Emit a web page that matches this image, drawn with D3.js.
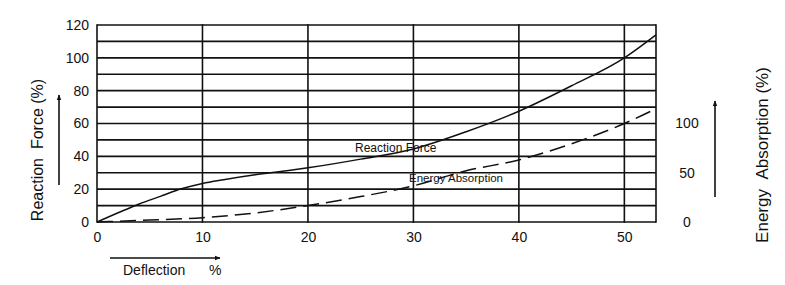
<!DOCTYPE html>
<html>
<head>
<meta charset="utf-8">
<script src="https://cdn.jsdelivr.net/npm/d3@7"></script>
<style>
  body { margin: 0; background: #fff; }
  text { font-family: "Liberation Sans", Arial, sans-serif; fill: #111; }
</style>
</head>
<body>
<div class="svg"></div>
<script>
// values
var deflectionTicks = [0, 10, 20, 30, 40, 50];
var forceTicks = [0, 20, 40, 60, 80, 100, 120];
var forceGrid = [0, 10, 20, 30, 40, 50, 60, 70, 80, 90, 100, 110, 120];
var energyTicks = [0, 50, 100];

var forceDeflection = [0, 2, 4, 6, 8, 10, 12, 15, 18, 20, 25, 30, 35, 40, 45, 50, 53];
var reactionForce   = [0, 5.6, 11, 15.6, 20.2, 23.5, 25.8, 28.8, 31.2, 33, 38.3, 44.5, 55, 67.5, 83, 100, 114];

var energyDeflection = [0, 5, 10, 15, 20, 25, 30, 35, 40, 45, 50, 53];
var energyAbsorption = [0, 2, 4.3, 9.2, 16.7, 25.8, 36.7, 52, 63, 79.5, 100, 115];

var width = 785, height = 285;
var plotL = 97, plotR = 656, plotT = 25, plotB = 222;

var svg = d3.select(".svg").append("svg")
    .attr("width", width)
    .attr("height", height);

var x = d3.scaleLinear().domain([0, 53]).range([plotL, plotR]);
var y = d3.scaleLinear().domain([0, 120]).range([plotB, plotT]);
var yR = d3.scaleLinear().domain([0, 200]).range([plotB, plotT]);

// grid
svg.append("g").selectAll("line")
    .data(forceGrid)
    .enter().append("line")
    .attr("x1", plotL).attr("x2", plotR)
    .attr("y1", function (d) { return y(d); })
    .attr("y2", function (d) { return y(d); })
    .attr("stroke", "#111").attr("stroke-width", 1.6);

svg.append("g").selectAll("line")
    .data(deflectionTicks.concat([53]))
    .enter().append("line")
    .attr("x1", function (d) { return x(d); })
    .attr("x2", function (d) { return x(d); })
    .attr("y1", plotT - 0.8).attr("y2", plotB + 0.8)
    .attr("stroke", "#111").attr("stroke-width", 1.6);

// curves
var forceLine = d3.line()
    .x(function (d) { return x(d[0]); })
    .y(function (d) { return y(d[1]); })
    .curve(d3.curveMonotoneX);

var energyLine = d3.line()
    .x(function (d) { return x(d[0]); })
    .y(function (d) { return yR(d[1]); })
    .curve(d3.curveMonotoneX);

svg.append("path")
    .attr("d", forceLine(d3.zip(forceDeflection, reactionForce)))
    .attr("fill", "none").attr("stroke", "#111").attr("stroke-width", 1.5);

svg.append("path")
    .attr("d", energyLine(d3.zip(energyDeflection, energyAbsorption)))
    .attr("fill", "none").attr("stroke", "#111").attr("stroke-width", 1.5)
    .attr("stroke-dasharray", "16,7");

// curve labels
svg.append("text").attr("x", 355).attr("y", 152)
    .style("font-size", "12px").text("Reaction Force");
svg.append("text").attr("x", 409).attr("y", 182)
    .style("font-size", "11.5px").text("Energy Absorption");

// axes
var axisLeft = svg.append("g")
    .attr("transform", "translate(" + plotL + ",0)")
    .call(d3.axisLeft(y).tickValues(forceTicks).tickSize(0).tickPadding(8));
axisLeft.select(".domain").remove();
axisLeft.selectAll("text").style("font-size", "14px").style("font-family", "Liberation Sans, Arial, sans-serif").attr("fill", "#111");

var axisBottom = svg.append("g")
    .attr("transform", "translate(0," + plotB + ")")
    .call(d3.axisBottom(x).tickValues(deflectionTicks).tickSize(0).tickPadding(10));
axisBottom.select(".domain").remove();
axisBottom.selectAll("text").style("font-size", "14px").style("font-family", "Liberation Sans Narrow, Liberation Sans, Arial, sans-serif").attr("fill", "#111");

var axisRight = svg.append("g")
    .attr("transform", "translate(" + (plotR + 31) + ",0)")
    .call(d3.axisRight(yR).tickValues(energyTicks).tickSize(0).tickPadding(0));
axisRight.select(".domain").remove();
axisRight.selectAll("text").attr("text-anchor", "middle")
    .style("font-size", "14px").style("font-family", "Liberation Sans, Arial, sans-serif").attr("fill", "#111");

// titles and arrows
svg.append("defs").append("marker")
    .attr("id", "arrow")
    .attr("viewBox", "0 0 10 10")
    .attr("refX", 9).attr("refY", 5)
    .attr("markerWidth", 6).attr("markerHeight", 6)
    .attr("markerUnits", "userSpaceOnUse")
    .attr("orient", "auto")
    .append("path").attr("d", "M0,1L10,5L0,9Z").attr("fill", "#111");

svg.append("text")
    .attr("transform", "translate(43,150) rotate(-90)")
    .attr("text-anchor", "middle")
    .style("font-size", "16px")
    .text("Reaction\u00a0\u00a0Force (%)");

svg.append("line")
    .attr("x1", 59).attr("x2", 59).attr("y1", 185).attr("y2", 95)
    .attr("stroke", "#111").attr("stroke-width", 1.6).attr("marker-end", "url(#arrow)");

svg.append("text")
    .attr("transform", "translate(768,155) rotate(-90)")
    .attr("text-anchor", "middle")
    .style("font-size", "17px")
    .text("Energy\u00a0\u00a0Absorption (%)");

svg.append("line")
    .attr("x1", 715).attr("x2", 715).attr("y1", 197).attr("y2", 101)
    .attr("stroke", "#111").attr("stroke-width", 1.6).attr("marker-end", "url(#arrow)");

svg.append("line")
    .attr("x1", 110).attr("x2", 220).attr("y1", 258).attr("y2", 258)
    .attr("stroke", "#111").attr("stroke-width", 1.6).attr("marker-end", "url(#arrow)");

svg.append("text").attr("x", 123).attr("y", 275)
    .style("font-size", "14px").text("Deflection");
svg.append("text").attr("x", 209).attr("y", 275)
    .style("font-size", "14px").text("%");
</script>
</body>
</html>
